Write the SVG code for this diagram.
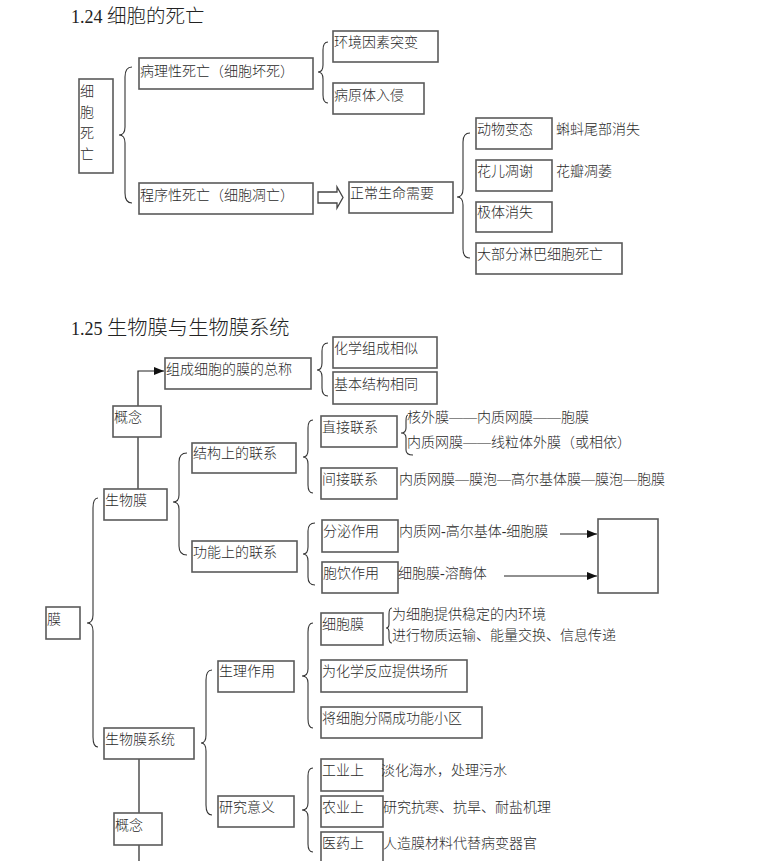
<svg xmlns="http://www.w3.org/2000/svg" width="765" height="861" viewBox="0 0 765 861">
<style>
.b{fill:#fff;stroke:#5a5a5a;stroke-width:1.6}
.t{font-family:"Liberation Serif","Noto Sans CJK SC",serif;font-size:14px;font-weight:300;fill:#2a2a2a}
.h{font-family:"Liberation Serif","Noto Sans CJK SC",serif;font-weight:300;fill:#222}
.br{fill:none;stroke:#333;stroke-width:1.1}
.ln{fill:none;stroke:#222;stroke-width:1.2}
</style>
<defs>
<marker id="ah" markerWidth="10" markerHeight="8" refX="10" refY="4" orient="auto" markerUnits="userSpaceOnUse">
<path d="M0,0 L10,4 L0,8 Z" fill="#111"/>
</marker>
</defs>
<rect width="765" height="861" fill="#fff"/>
<text class="h" x="71" y="23"><tspan font-size="18">1.24 </tspan><tspan font-size="19.5">细胞的死亡</tspan></text>
<text class="h" x="71" y="335"><tspan font-size="18">1.25 </tspan><tspan font-size="20.3">生物膜与生物膜系统</tspan></text>

<g id="connectors">
<path class="br" d="M132,67 Q125,67 125,77 L125,127 Q125,135 119,135 Q125,135 125,143 L125,193 Q125,203 132,203"/>
<path class="br" d="M328,42 Q323,42 323,50 L323,65 Q323,72 318,72 Q323,72 323,79 L323,95 Q323,103 328,103"/>
<path class="br" d="M470,133 Q463,133 463,142 L463,189 Q463,197 457,197 Q463,197 463,205 L463,249 Q463,258 470,258"/>
<path class="br" d="M328,343 Q322,343 322,351 L322,363 Q322,370 317,370 Q322,370 322,377 L322,388 Q322,396 328,396"/>
<path class="br" d="M313,420 Q308,420 308,428 L308,450 Q308,457 303,457 Q308,457 308,464 L308,485 Q308,493 313,493"/>
<path class="br" d="M408,415 Q406,415 406,421 L406,428 Q406,433 401,433 Q406,433 406,438 L406,450 Q406,455 413,455"/>
<path class="br" d="M187,453 Q179,453 179,462 L179,495 Q179,502 173,502 Q179,502 179,509 L179,546 Q179,555 187,555"/>
<path class="br" d="M315,523 Q308,523 308,531 L308,547 Q308,554 303,554 Q308,554 308,561 L308,577 Q308,585 315,585"/>
<path class="br" d="M98,498 Q93,498 93,508 L93,615 Q93,623 87,623 Q93,623 93,631 L93,737 Q93,747 98,747"/>
<path class="br" d="M212,670 Q206,670 206,680 L206,735 Q206,743 201,743 Q206,743 206,751 L206,805 Q206,815 212,815"/>
<path class="br" d="M313,623 Q308,623 308,632 L308,669 Q308,676 302,676 Q308,676 308,683 L308,719 Q308,728 313,728"/>
<path class="br" d="M392,608 Q389,608 389,614 L389,624 Q389,628 386,628 Q389,628 389,632 L389,638 Q389,643 392,643"/>
<path class="br" d="M313,768 Q308,768 308,776 L308,803 Q308,810 302,810 Q308,810 308,817 L308,844 Q308,852 313,852"/>
<path d="M318,192 L337,192 L337,187 L343,197.5 L337,208 L337,203 L318,203 Z" fill="#fff" stroke="#444" stroke-width="1.3"/>
<path class="ln" d="M138,406 L138,371 L164,371" marker-end="url(#ah)"/>
<path class="ln" d="M138,437 L138,489"/>
<path class="ln" d="M139,759 L139,813"/>
<path class="ln" d="M139,845 L139,861"/>
<path class="ln" d="M560,534 L597,534" marker-end="url(#ah)"/>
<path class="ln" d="M504,576 L597,576" marker-end="url(#ah)"/>
</g>

<g id="n-xibaosiwang"><rect class="b" x="79" y="79" width="34" height="94"/>
<text class="t" x="80" y="96">细</text><text class="t" x="80" y="117">胞</text><text class="t" x="80" y="138">死</text><text class="t" x="80" y="159">亡</text></g>
<g id="n-bingli"><rect class="b" x="139" y="58" width="174" height="31"/><text class="t" x="140" y="76">病理性死亡（细胞坏死）</text></g>
<g id="n-huanjing"><rect class="b" x="333" y="31" width="105" height="31"/><text class="t" x="334" y="47">环境因素突变</text></g>
<g id="n-bingyuan"><rect class="b" x="333" y="83" width="91" height="31"/><text class="t" x="334" y="100">病原体入侵</text></g>
<g id="n-chengxu"><rect class="b" x="139" y="183" width="174" height="31"/><text class="t" x="140" y="200">程序性死亡（细胞凋亡）</text></g>
<g id="n-zhengchang"><rect class="b" x="349" y="182" width="104" height="31"/><text class="t" x="350" y="198">正常生命需要</text></g>
<g id="n-dongwu"><rect class="b" x="476" y="118" width="76" height="31"/><text class="t" x="477" y="134">动物变态</text><text class="t" x="556" y="134">蝌蚪尾部消失</text></g>
<g id="n-huaer"><rect class="b" x="476" y="160" width="76" height="31"/><text class="t" x="477" y="176">花儿凋谢</text><text class="t" x="556" y="176">花瓣凋萎</text></g>
<g id="n-jiti"><rect class="b" x="476" y="202" width="76" height="30"/><text class="t" x="477" y="217">极体消失</text></g>
<g id="n-linba"><rect class="b" x="476" y="243" width="146" height="31"/><text class="t" x="477" y="259">大部分淋巴细胞死亡</text></g>

<g id="n-zongcheng"><rect class="b" x="165" y="358" width="146" height="31"/><text class="t" x="166" y="374">组成细胞的膜的总称</text></g>
<g id="n-huaxue"><rect class="b" x="333" y="337" width="104" height="31"/><text class="t" x="334" y="353">化学组成相似</text></g>
<g id="n-jiben"><rect class="b" x="333" y="372" width="104" height="32"/><text class="t" x="334" y="389">基本结构相同</text></g>
<g id="n-gainian1"><rect class="b" x="113" y="406" width="48" height="31"/><text class="t" x="114" y="422">概念</text></g>
<g id="n-shengwumo"><rect class="b" x="104" y="489" width="63" height="31"/><text class="t" x="105" y="505">生物膜</text></g>
<g id="n-jiegou"><rect class="b" x="192" y="443" width="104" height="30"/><text class="t" x="193" y="458">结构上的联系</text></g>
<g id="n-gongneng"><rect class="b" x="192" y="541" width="105" height="31"/><text class="t" x="193" y="557">功能上的联系</text></g>
<g id="n-zhijie"><rect class="b" x="321" y="416" width="76" height="31"/><text class="t" x="322" y="432">直接联系</text>
<text class="t" x="407" y="422">核外膜——内质网膜——胞膜</text><text class="t" x="407" y="447">内质网膜——线粒体外膜（或相依）</text></g>
<g id="n-jianjie"><rect class="b" x="321" y="468" width="76" height="31"/><text class="t" x="322" y="484">间接联系</text>
<text class="t" x="399" y="484">内质网膜—膜泡—高尔基体膜—膜泡—胞膜</text></g>
<g id="n-fenmi"><rect class="b" x="322" y="520" width="76" height="32"/><text class="t" x="323" y="536">分泌作用</text><text class="t" x="399" y="536">内质网-高尔基体-细胞膜</text></g>
<g id="n-baoyin"><rect class="b" x="322" y="562" width="76" height="31"/><text class="t" x="323" y="578">胞饮作用</text><text class="t" x="398" y="578">细胞膜-溶酶体</text></g>
<g id="n-empty"><rect class="b" x="598" y="519" width="60" height="74"/></g>
<g id="n-mo"><rect class="b" x="46" y="607" width="34" height="32"/><text class="t" x="47" y="624">膜</text></g>
<g id="n-xibaomo"><rect class="b" x="321" y="613" width="62" height="32"/><text class="t" x="322" y="629">细胞膜</text>
<text class="t" x="392" y="619">为细胞提供稳定的内环境</text><text class="t" x="392" y="640">进行物质运输、能量交换、信息传递</text></g>
<g id="n-huaxuefanying"><rect class="b" x="321" y="660" width="146" height="32"/><text class="t" x="322" y="676">为化学反应提供场所</text></g>
<g id="n-fenge"><rect class="b" x="321" y="707" width="161" height="31"/><text class="t" x="322" y="723">将细胞分隔成功能小区</text></g>
<g id="n-shengli"><rect class="b" x="218" y="661" width="76" height="31"/><text class="t" x="219" y="676">生理作用</text></g>
<g id="n-xitong"><rect class="b" x="104" y="728" width="90" height="31"/><text class="t" x="105" y="744">生物膜系统</text></g>
<g id="n-yanjiu"><rect class="b" x="218" y="796" width="76" height="31"/><text class="t" x="219" y="812">研究意义</text></g>
<g id="n-gongye"><rect class="b" x="321" y="759" width="62" height="32"/><text class="t" x="322" y="775">工业上</text><text class="t" x="381" y="775">淡化海水，处理污水</text></g>
<g id="n-nongye"><rect class="b" x="321" y="796" width="62" height="31"/><text class="t" x="322" y="812">农业上</text><text class="t" x="383" y="812">研究抗寒、抗旱、耐盐机理</text></g>
<g id="n-yiyao"><rect class="b" x="321" y="832" width="62" height="40"/><text class="t" x="322" y="848">医药上</text><text class="t" x="383" y="848">人造膜材料代替病变器官</text></g>
<g id="n-gainian2"><rect class="b" x="114" y="813" width="48" height="32"/><text class="t" x="115" y="830">概念</text></g>
</svg>
